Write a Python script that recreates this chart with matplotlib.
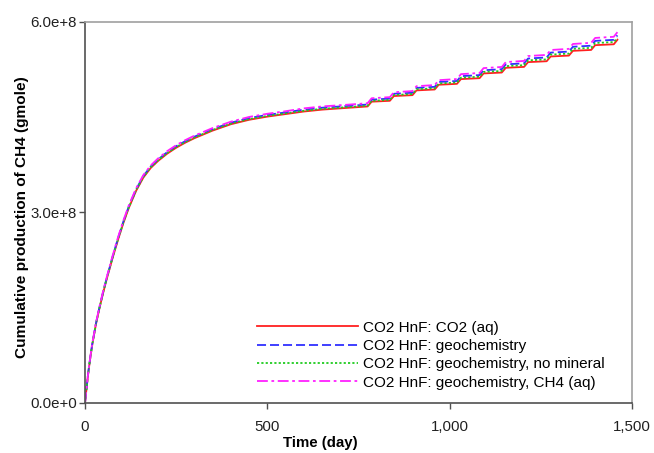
import matplotlib
matplotlib.use("Agg")
import matplotlib.pyplot as plt
from matplotlib.ticker import FixedLocator, FixedFormatter

plt.rcParams['font.family'] = ['Liberation Sans', 'DejaVu Sans']

# Time (day)
days = [0, 5, 10, 15, 20, 30, 40, 50, 60, 75, 90, 105, 120, 140, 160, 180, 200, 225, 250, 275,
        300, 350, 400, 450, 500, 550, 600, 650, 700, 750,
        775, 786, 836, 847, 898, 909, 959, 970, 1020, 1031, 1082, 1093, 1143, 1154,
        1204, 1215, 1266, 1277, 1327, 1338, 1388, 1399, 1450, 1460]

# Cumulative CH4 production (1e8 gmole)
co2_aq = [0, 0.27, 0.52, 0.73, 0.92, 1.24, 1.50, 1.74, 1.96, 2.27, 2.56, 2.83, 3.07, 3.34, 3.55, 3.70,
          3.81, 3.925, 4.02, 4.10, 4.17, 4.29, 4.39, 4.46, 4.51, 4.55, 4.59, 4.62, 4.64, 4.66,
          4.670, 4.745, 4.759, 4.834, 4.848, 4.923, 4.937, 5.012, 5.026, 5.101, 5.115, 5.190,
          5.204, 5.279, 5.293, 5.368, 5.382, 5.457, 5.471, 5.546, 5.560, 5.635, 5.649, 5.720]

geochem = [0, 0.275, 0.528, 0.74, 0.932, 1.252, 1.515, 1.758, 1.978, 2.29, 2.584, 2.854, 3.094,
           3.364, 3.574, 3.724, 3.834, 3.949, 4.044, 4.124, 4.194, 4.314, 4.414, 4.487, 4.537,
           4.577, 4.62, 4.65, 4.67, 4.69,
           4.701, 4.777, 4.794, 4.870, 4.886, 4.962, 4.979, 5.055, 5.071, 5.147, 5.164, 5.240,
           5.257, 5.333, 5.349, 5.425, 5.442, 5.518, 5.534, 5.610, 5.627, 5.703, 5.719, 5.790]

geochem_no_mineral = [0, 0.272, 0.524, 0.735, 0.925, 1.246, 1.506, 1.748, 1.968, 2.279, 2.57, 2.84,
                      3.08, 3.35, 3.56, 3.71, 3.82, 3.935, 4.03, 4.11, 4.18, 4.30, 4.40, 4.471,
                      4.521, 4.561, 4.602, 4.632, 4.652, 4.672,
                      4.683, 4.759, 4.774, 4.850, 4.865, 4.941, 4.956, 5.032, 5.047, 5.123, 5.138,
                      5.214, 5.229, 5.305, 5.320, 5.396, 5.411, 5.487, 5.502, 5.578, 5.593, 5.669,
                      5.684, 5.750]

geochem_ch4_aq = [0, 0.28, 0.53, 0.745, 0.94, 1.26, 1.525, 1.77, 1.99, 2.305, 2.60, 2.87, 3.11,
                  3.38, 3.59, 3.74, 3.85, 3.965, 4.06, 4.14, 4.21, 4.33, 4.43, 4.505, 4.555,
                  4.595, 4.64, 4.67, 4.69, 4.71,
                  4.722, 4.799, 4.817, 4.894, 4.912, 4.989, 5.007, 5.084, 5.102, 5.179, 5.197,
                  5.274, 5.292, 5.369, 5.387, 5.464, 5.482, 5.559, 5.577, 5.654, 5.672, 5.749,
                  5.767, 5.840]

labels = ["CO2 HnF: CO2 (aq)", "CO2 HnF: geochemistry",
          "CO2 HnF: geochemistry, no mineral", "CO2 HnF: geochemistry, CH4 (aq)"]

x_ticks = [0, 500, 1000, 1500]
x_ticklabels = ["0", "500", "1,000", "1,500"]
y_ticks = [0, 3e8, 6e8]
y_ticklabels = ["0.0e+0", "3.0e+8", "6.0e+8"]

fig = plt.figure(figsize=(6.54, 4.53), dpi=100)
ax = fig.add_axes([85 / 654, 50 / 453, 547 / 654, 381 / 453])

scale = 1e8
ax.plot(days, [v * scale for v in co2_aq], color='#FF2020', lw=1.3, ls='-', label=labels[0])
ax.plot(days, [v * scale for v in geochem], color='#3030FF', lw=1.3, ls=(0, (5, 2.2)), label=labels[1])
ax.plot(days, [v * scale for v in geochem_no_mineral], color='#20CC20', lw=1.3, ls=(0, (1.2, 1.2)), label=labels[2])
ax.plot(days, [v * scale for v in geochem_ch4_aq], color='#FF20FF', lw=1.3, ls=(0, (6, 2, 1.5, 2)), label=labels[3])

ax.set_xlim(0, 1500)
ax.set_ylim(0, 6e8)
ax.xaxis.set_major_locator(FixedLocator(x_ticks))
ax.xaxis.set_major_formatter(FixedFormatter(x_ticklabels))
ax.yaxis.set_major_locator(FixedLocator(y_ticks))
ax.yaxis.set_major_formatter(FixedFormatter(y_ticklabels))

for side in ['left', 'bottom']:
    ax.spines[side].set_color('#505050')
    ax.spines[side].set_linewidth(1.2)
for side in ['top', 'right']:
    ax.spines[side].set_color('#A0A0A0')
    ax.spines[side].set_linewidth(1.2)

ax.tick_params(axis='both', direction='out', length=4, width=1, color='#505050',
               labelsize=10.8, labelcolor='#202020')
ax.tick_params(axis='x', pad=8)
ax.tick_params(axis='y', pad=2)

fig.text(320 / 654, 1 - 443 / 453, "Time (day)", fontsize=10.8, fontweight='bold',
         ha='center', va='center')
fig.text(22 / 654, 1 - 217 / 453, "Cumulative production of CH4 (gmole)", fontsize=11.1,
         fontweight='bold', rotation=90, ha='center', va='center')

leg = ax.legend(loc='lower left', bbox_to_anchor=(0.3035, 0.019), frameon=False, fontsize=11,
                handlelength=6.6, handletextpad=0.3, labelspacing=0.28, borderaxespad=0)

fig.savefig("out.png", dpi=100)
